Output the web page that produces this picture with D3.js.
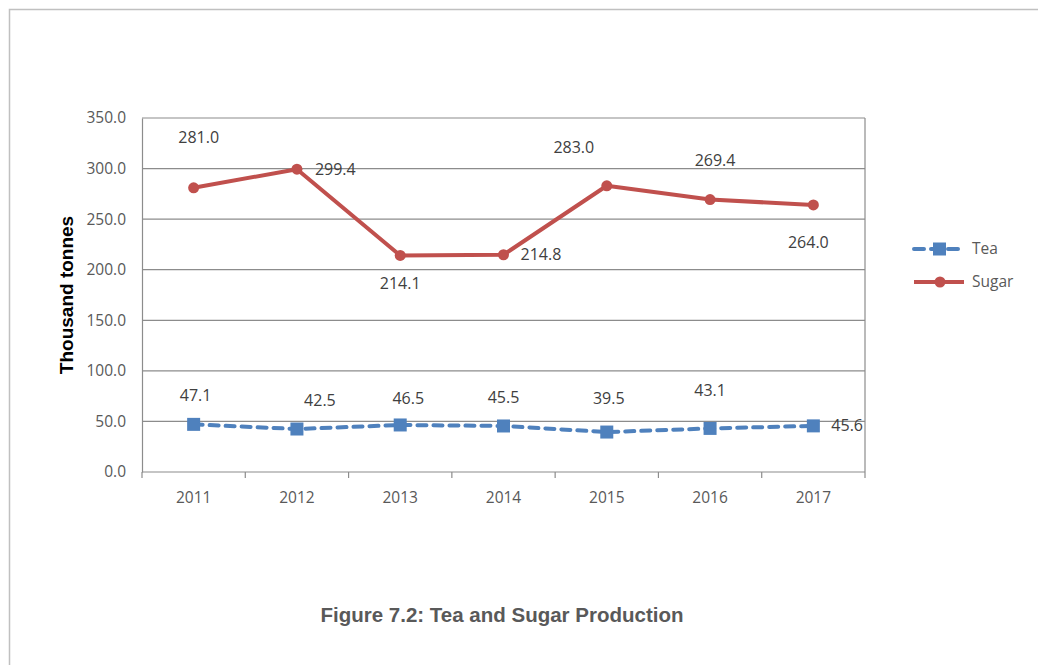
<!DOCTYPE html>
<html>
  <head>
    <title>Tea and Sugar Production</title>
    <script src="https://cdn.jsdelivr.net/npm/d3@7"></script>
    <style>
      body { margin: 0; background: #fff; }
    </style>
  </head>
  <body>
    <svg width="1038" height="665" id="mainsvg"></svg>
    <script>
      const years = ['2011', '2012', '2013', '2014', '2015', '2016', '2017'];
      const tea = [47.1, 42.5, 46.5, 45.5, 39.5, 43.1, 45.6];
      const sugar = [281.0, 299.4, 214.1, 214.8, 283.0, 269.4, 264.0];
      const yTicks = [0, 50, 100, 150, 200, 250, 300, 350];

      // label nudges (px) as placed in the original
      const sugarLabelPos = [[5, -50, 'middle'], [18, 0, 'start'], [0, 28, 'middle'], [17, 0, 'start'],
                             [-33, -38, 'middle'], [5, -39, 'middle'], [-5, 37, 'middle']];
      const teaLabelPos = [[2, -29, 'middle'], [23, -29, 'middle'], [8, -27, 'middle'], [0, -29, 'middle'],
                           [2, -34, 'middle'], [0, -38, 'middle'], [18, 0, 'start']];

      const svg = d3.select('#mainsvg');
      const margin = {top: 118, left: 142, right: 865, bottom: 472};
      const font = '"Open Sans", "Noto Sans", sans-serif';
      const fs = 15.5;

      // outer frame
      svg.append('path')
        .attr('d', 'M9.5,665 V9.5 H1038')
        .attr('fill', 'none').attr('stroke', '#c0c0c0').attr('stroke-width', 1.5);

      const x = d3.scaleBand().domain(years).range([margin.left, margin.right]);
      const y = d3.scaleLinear().domain([0, 350]).range([margin.bottom, margin.top]);
      const cx = d => x(d) + x.bandwidth() / 2;

      // gridlines
      svg.append('g').selectAll('line').data(yTicks.slice(1)).join('line')
        .attr('x1', margin.left).attr('x2', margin.right)
        .attr('y1', d => y(d)).attr('y2', d => y(d))
        .attr('stroke', '#8c8c8c').attr('stroke-width', 1.2);
      svg.append('line')
        .attr('x1', margin.right).attr('x2', margin.right)
        .attr('y1', margin.top).attr('y2', margin.bottom)
        .attr('stroke', '#8c8c8c').attr('stroke-width', 1.2);

      // y axis
      const yAxis = d3.axisLeft(y).tickValues(yTicks).tickFormat(d3.format('.1f')).tickSize(0).tickPadding(16);
      const yg = svg.append('g').attr('transform', `translate(${margin.left},0)`).call(yAxis);
      yg.select('.domain').attr('stroke', '#8c8c8c').attr('stroke-width', 1.2);
      yg.selectAll('text').attr('font-family', font).attr('font-size', fs).attr('fill', '#595959');

      // x axis, ticks at band edges
      const xg = svg.append('g').attr('transform', `translate(0,${margin.bottom})`);
      xg.append('line').attr('x1', margin.left).attr('x2', margin.right)
        .attr('stroke', '#8c8c8c').attr('stroke-width', 1.2);
      xg.selectAll('.tk').data(years.concat(['end'])).join('line').attr('class', 'tk')
        .attr('x1', (d, i) => margin.left + i * x.bandwidth())
        .attr('x2', (d, i) => margin.left + i * x.bandwidth())
        .attr('y1', 0).attr('y2', 6)
        .attr('stroke', '#8c8c8c').attr('stroke-width', 1.2);
      xg.selectAll('text').data(years).join('text')
        .attr('x', d => cx(d)).attr('y', 31)
        .attr('text-anchor', 'middle')
        .attr('font-family', font).attr('font-size', fs).attr('fill', '#595959')
        .text(d => d);

      // y title
      svg.append('text')
        .attr('transform', 'translate(73,295) rotate(-90)')
        .attr('text-anchor', 'middle')
        .attr('font-family', 'Liberation Sans, Arial, sans-serif')
        .attr('font-weight', 'bold').attr('font-size', 19).attr('fill', '#000')
        .text('Thousand tonnes');

      const line = d3.line().x((d, i) => cx(years[i])).y(d => y(d));

      // sugar
      svg.append('path').datum(sugar).attr('d', line)
        .attr('fill', 'none').attr('stroke', '#C0504D').attr('stroke-width', 4)
        .attr('stroke-linejoin', 'round');
      svg.append('g').selectAll('circle').data(sugar).join('circle')
        .attr('cx', (d, i) => cx(years[i])).attr('cy', d => y(d)).attr('r', 5.5)
        .attr('fill', '#C0504D');

      // tea
      svg.append('path').datum(tea).attr('d', line)
        .attr('fill', 'none').attr('stroke', '#4F81BD').attr('stroke-width', 4)
        .attr('stroke-dasharray', '9,7').attr('stroke-linecap', 'round');
      svg.append('g').selectAll('rect').data(tea).join('rect')
        .attr('x', (d, i) => cx(years[i]) - 6.5).attr('y', d => y(d) - 6.5)
        .attr('width', 13).attr('height', 13)
        .attr('fill', '#4F81BD');

      // data labels
      const labels = (vals, pos) => svg.append('g').selectAll('text').data(vals).join('text')
        .attr('x', (d, i) => cx(years[i]) + pos[i][0])
        .attr('y', (d, i) => y(d) + pos[i][1])
        .attr('dy', '0.35em')
        .attr('text-anchor', (d, i) => pos[i][2])
        .attr('font-family', font).attr('font-size', 16).attr('fill', '#404040')
        .text(d => d3.format('.1f')(d));
      labels(sugar, sugarLabelPos);
      labels(tea, teaLabelPos);

      // legend
      const legend = [
        {name: 'Tea', color: '#4F81BD', dash: '9,7', y: 249, shape: 'rect'},
        {name: 'Sugar', color: '#C0504D', dash: null, y: 282, shape: 'circle'}
      ];
      const lg = svg.append('g').selectAll('g').data(legend).join('g')
        .attr('transform', d => `translate(914,${d.y})`);
      lg.append('line').attr('x1', 0).attr('x2', 50)
        .attr('stroke', d => d.color).attr('stroke-width', 4)
        .attr('stroke-dasharray', d => d.dash ? '10,7' : null)
        .attr('stroke-linecap', d => d.dash ? 'round' : 'butt');
      lg.filter(d => d.shape === 'rect').append('rect')
        .attr('x', 19).attr('y', -6.5).attr('width', 13).attr('height', 13).attr('fill', d => d.color);
      lg.filter(d => d.shape === 'circle').append('circle')
        .attr('cx', 26).attr('cy', 0).attr('r', 5.5).attr('fill', d => d.color);
      lg.append('text').attr('x', 58).attr('dy', '0.35em')
        .attr('font-family', font).attr('font-size', fs).attr('fill', '#595959')
        .text(d => d.name);

      // caption
      svg.append('text')
        .attr('x', 502).attr('y', 622)
        .attr('text-anchor', 'middle')
        .attr('font-family', 'Liberation Sans, Arial, sans-serif')
        .attr('font-weight', 'bold').attr('font-size', 20.5).attr('fill', '#595959')
        .text('Figure 7.2: Tea and Sugar Production');
    </script>
  </body>
</html>
